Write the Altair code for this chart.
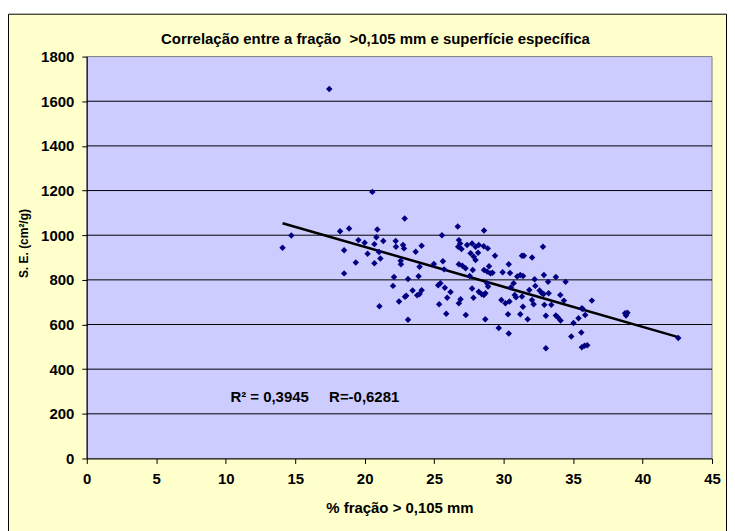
import altair as alt
import pandas as pd

# % fração > 0,105 mm
x_frac = [
    14.09, 14.72, 17.45, 18.23, 18.88, 18.52, 19.36, 18.52, 19.55, 20.0,
    20.21, 20.55, 20.7, 20.84, 20.91, 20.7, 21.34, 21.03, 21.13, 21.06,
    22.11, 22.04, 22.47, 22.9, 22.99, 23.12, 23.12, 22.23, 22.25, 22.76,
    22.83, 22.88, 22.59, 22.61, 23.67, 24.1, 23.95, 23.88, 23.45, 23.78,
    23.95, 24.1, 24.98, 25.63, 25.56, 25.72, 25.29, 25.45, 25.77, 26.18,
    25.94, 25.36, 25.87, 26.7, 26.78, 26.87, 26.73, 26.97, 26.78, 27.03,
    27.26, 26.9, 26.78, 27.28, 27.37, 27.73, 27.98, 28.21, 28.57, 27.62,
    27.85, 27.98, 28.16, 27.78, 28.59, 27.56, 27.73, 27.83, 28.21, 28.41,
    28.57, 28.69, 28.81, 28.88, 28.68, 28.59, 28.81, 28.86, 29.38, 30.37,
    28.95, 29.05, 29.2, 29.93, 30.46, 30.98, 31.2, 31.4, 31.32, 31.46,
    32.05, 32.83, 32.9, 33.76, 32.23, 33.2, 34.46, 30.72, 30.53, 31.85,
    32.28, 32.59, 32.76, 33.24, 34.08, 34.34, 32.88, 29.84, 30.13, 30.42,
    30.8, 30.89, 31.32, 32.04, 32.16, 31.39, 31.2, 30.32, 31.73, 33.04,
    33.43, 32.93, 33.76, 33.9, 34.1, 29.65, 30.37, 33.04, 35.63, 35.87,
    35.39, 35.03, 35.59, 34.87, 35.63, 35.82, 36.02, 36.35, 35.7, 38.74,
    38.91, 38.81, 42.57,
]
# superfície específica (cm²/g)
se = [
    944, 999, 1655, 1018, 1030, 933, 878, 829, 978, 966,
    917, 1194, 960, 991, 1026, 874, 974, 925, 896, 682,
    813, 773, 703, 724, 729, 621, 804, 974, 948, 956,
    941, 1075, 886, 870, 926, 953, 859, 816, 752, 731,
    737, 753, 871, 883, 1000, 847, 776, 785, 765, 746,
    720, 691, 648, 1039, 978, 963, 948, 938, 870, 863,
    852, 713, 695, 643, 956, 963, 948, 956, 951, 919,
    904, 889, 921, 844, 1021, 817, 761, 720, 747, 737,
    732, 740, 785, 770, 624, 844, 837, 941, 908, 870,
    861, 829, 832, 834, 831, 815, 822, 817, 908, 908,
    900, 948, 822, 813, 803, 791, 791, 785, 767, 755,
    773, 752, 740, 740, 732, 707, 737, 710, 695, 703,
    732, 722, 725, 710, 691, 680, 646, 646, 624, 639,
    688, 688, 640, 633, 618, 584, 560, 494, 673, 643,
    628, 607, 564, 546, 498, 505, 507, 707, 669, 651,
    653, 640, 540,
]

x_ticks = [0, 5, 10, 15, 20, 25, 30, 35, 40, 45]
y_ticks = [0, 200, 400, 600, 800, 1000, 1200, 1400, 1600, 1800]
grid_vals = [200, 400, 600, 800, 1000, 1200, 1400, 1600]

title_text = "Correlação entre a fração\u00a0 >0,105 mm e superfície específica"
r2_text = "R² = 0,3945"
r_text = "R=-0,6281"

FONT = "Liberation Sans"
FS = 15
W, H = 627, 403

df = pd.DataFrame({"x": x_frac, "y": se})
grid_df = pd.DataFrame({"y": grid_vals})
one = pd.DataFrame({"d": [0]})

xscale = alt.Scale(domain=[0, 45], nice=False, zero=False)
yscale = alt.Scale(domain=[0, 1800], nice=False, zero=False)

xaxis = alt.Axis(
    values=x_ticks, format="d", grid=False, domainColor="black", domainWidth=1,
    tickColor="black", tickSize=5, labelFlush=False, labelOverlap=False,
    labelFont=FONT, labelFontSize=FS, labelFontWeight="bold", labelColor="black",
    labelPadding=8, title="% fração > 0,105 mm", titleFont=FONT, titleFontSize=FS,
    titleFontWeight="bold", titleColor="black", titlePadding=14, zindex=1,
)
yaxis = alt.Axis(
    values=y_ticks, format="d", grid=False, domainColor="black", domainWidth=1,
    tickColor="black", tickSize=5, labelFlush=False, labelOverlap=False,
    labelFont=FONT, labelFontSize=FS, labelFontWeight="bold", labelColor="black",
    labelPadding=8, title="S. E. (cm²/g)", titleFont=FONT, titleFontSize=12,
    titleFontWeight="bold", titleColor="black", titleX=-63, titleY=187,
    titleAngle=270, titleAlign="center", titleBaseline="middle", zindex=1,
)

x_enc = alt.X("x:Q", scale=xscale, axis=xaxis)
y_enc = alt.Y("y:Q", scale=yscale, axis=yaxis)

frame = alt.Chart(one).mark_rect(
    fill="#FFFFCC", stroke="black", strokeWidth=1
).encode(x=alt.value(-78.5), x2=alt.value(641.5), y=alt.value(-42.5), y2=alt.value(480))

plotbg = alt.Chart(one).mark_rect(
    fill="#CCCCFF", stroke="#808080", strokeWidth=1
).encode(x=alt.value(0), x2=alt.value(W), y=alt.value(0), y2=alt.value(H))

grid = alt.Chart(grid_df).mark_rule(color="black", strokeWidth=1).encode(y=y_enc)

trend = alt.Chart(df).transform_regression("x", "y").mark_line(
    color="black", strokeWidth=2.5
).encode(x=x_enc, y=y_enc)

points = alt.Chart(df).mark_point(
    shape="diamond", filled=True, size=42, color="#000080", opacity=1
).encode(x=x_enc, y=y_enc)

title_mark = alt.Chart(one).mark_text(
    text=title_text, font=FONT, fontSize=FS, fontWeight="bold", color="black",
    align="center", baseline="middle"
).encode(x=alt.value(W / 2 - 24), y=alt.value(-18))

txt1 = alt.Chart(one).mark_text(
    text=r2_text, font=FONT, fontSize=FS, fontWeight="bold", color="black",
    align="left", baseline="middle"
).encode(x=alt.value(144), y=alt.value(341))
txt2 = alt.Chart(one).mark_text(
    text=r_text, font=FONT, fontSize=FS, fontWeight="bold", color="black",
    align="left", baseline="middle"
).encode(x=alt.value(243), y=alt.value(341))

chart = alt.layer(frame, plotbg, grid, trend, points, title_mark, txt1, txt2).properties(
    width=W, height=H,
    autosize=alt.AutoSizeParams(type="none"),
    padding={"left": 79, "top": 48, "right": 15, "bottom": 72},
    background="white",
).configure_view(strokeOpacity=0)

chart.save("out.html", embed_options={"renderer": "svg", "actions": False})
